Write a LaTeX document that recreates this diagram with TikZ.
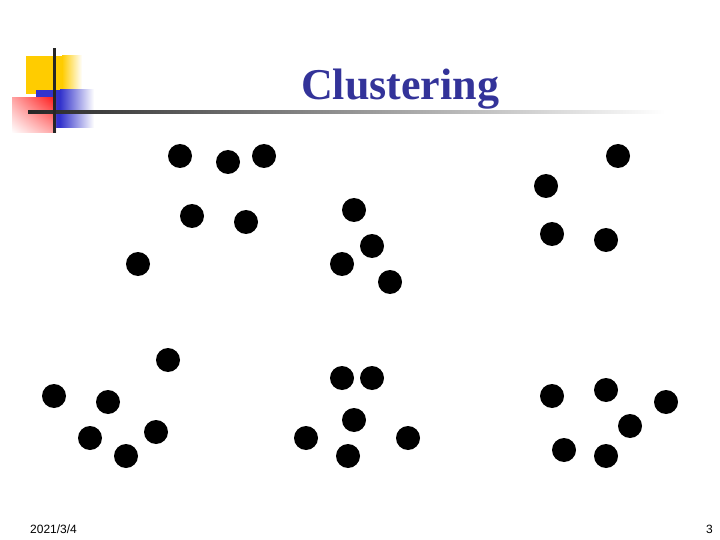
\documentclass[tikz,border=0pt]{standalone}
\usepackage{fontspec}
\setmainfont{Liberation Serif}
\newfontfamily\footfont{Liberation Sans}
\usetikzlibrary{positioning,shadings}
\definecolor{titleblue}{RGB}{51,51,153}
\definecolor{logoyellow}{RGB}{255,204,0}
\definecolor{logoblue}{RGB}{51,51,204}
\tikzset{
 dot/.style={circle,fill=black,minimum size=24pt,inner sep=0pt},
 foot/.style={font=\footfont\fontsize{12}{14}\selectfont,inner sep=0pt},
}
\begin{document}
\begin{tikzpicture}[x=1pt,y=-1pt]
\useasboundingbox[fill=white] (0,0) rectangle (720,540);
\shade[left color=logoyellow,right color=logoyellow!0] (62,56) rectangle (82,94);
\fill[logoyellow] (26,56) rectangle (62,94);
\shade[left color=logoblue,right color=logoblue!0] (60,90) rectangle (94,128);
\fill[logoblue] (36,90) rectangle (60,128);
\shade[upper right=red!90,upper left=red!35,lower right=red!35,lower left=red!0] (12,98) rectangle (56,133);
\shade[left color=black!85,right color=white] (28,110.5) rectangle (665,113.5);
\fill[black!85] (52.5,48) rectangle (55.5,133);
\node[font=\bfseries\fontsize{44}{48}\selectfont,text=titleblue,anchor=base,inner sep=0pt] (title) at (400,100) {Clustering};
\node[dot] (a1) at (180,156) {};
\node[dot] (a2) at (228,162) {};
\node[dot] (a3) at (264,156) {};
\node[dot] (a4) at (192,216) {};
\node[dot] (a5) at (246,222) {};
\node[dot] (a6) at (138,264) {};
\node[dot] (b1) at (354,210) {};
\node[dot] (b2) at (372,246) {};
\node[dot] (b3) at (342,264) {};
\node[dot] (b4) at (390,282) {};
\node[dot] (c1) at (618,156) {};
\node[dot] (c2) at (546,186) {};
\node[dot] (c3) at (552,234) {};
\node[dot] (c4) at (606,240) {};
\node[dot] (d1) at (168,360) {};
\node[dot] (d2) at (54,396) {};
\node[dot] (d3) at (108,402) {};
\node[dot] (d4) at (90,438) {};
\node[dot] (d5) at (156,432) {};
\node[dot] (d6) at (126,456) {};
\node[dot] (e1) at (342,378) {};
\node[dot] (e2) at (372,378) {};
\node[dot] (e3) at (354,420) {};
\node[dot] (e4) at (306,438) {};
\node[dot] (e5) at (408,438) {};
\node[dot] (e6) at (348,456) {};
\node[dot] (f1) at (552,396) {};
\node[dot] (f2) at (606,390) {};
\node[dot] (f3) at (666,402) {};
\node[dot] (f4) at (630,426) {};
\node[dot] (f5) at (564,450) {};
\node[dot] (f6) at (606,456) {};
\node[foot,anchor=base west] (date) at (30,533.5) {2021/3/4};
\node[foot,anchor=base east] (page) at (713,533.5) {3};
\end{tikzpicture}
\end{document}
